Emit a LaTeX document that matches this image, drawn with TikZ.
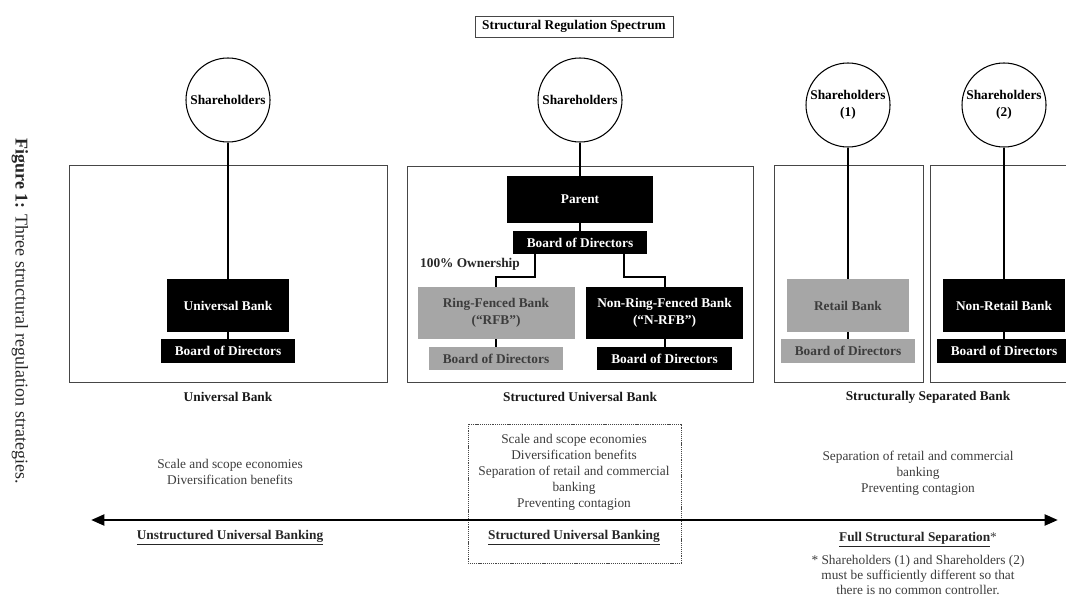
\documentclass[tikz,border=0pt]{standalone}
\usepackage{fontspec}
\setmainfont{Liberation Serif}
\usetikzlibrary{arrows.meta}
\definecolor{textgray}{RGB}{60,60,60}
\definecolor{boxgray}{RGB}{166,166,166}
\definecolor{edgegray}{RGB}{70,70,70}
\begin{document}
\begin{tikzpicture}[x=0.75pt,y=-0.75pt,
  every node/.style={font=\fontsize{10pt}{12pt}\selectfont, inner sep=0pt, align=center},
  share/.style={circle, draw=black, line width=0.8pt, minimum size=63pt, font=\fontsize{10pt}{12.5pt}\selectfont\bfseries},
  blackbox/.style={fill=black, text=white, font=\fontsize{10pt}{12.5pt}\selectfont\bfseries},
  graybox/.style={fill=boxgray, text=textgray, font=\fontsize{10pt}{12.5pt}\selectfont\bfseries},
  bank/.style={minimum width=91.5pt, minimum height=39.75pt},
  board/.style={minimum width=100.5pt, minimum height=18pt},
  panel/.style={draw=edgegray, line width=0.75pt},
  conn/.style={line width=1.5pt, black},
  plabel/.style={font=\fontsize{10pt}{12pt}\selectfont\bfseries, text=black!90},
  body/.style={text=textgray, font=\fontsize{10pt}{12pt}\selectfont},
  spectrum/.style={line width=2.2pt, black, {Triangle[length=10pt,width=8pt]}-{Triangle[length=10pt,width=8pt]}}
]
\clip (0,0) rectangle (1066,599);

% caption
\node[rotate=-90, font=\fontsize{13.5pt}{16pt}\selectfont, text=black!85] (cap) at (20,311) {\textbf{Figure 1:} Three structural regulation strategies.};

% title
\node[draw=edgegray, line width=0.6pt, minimum width=148.5pt, minimum height=15.75pt, font=\fontsize{10pt}{12pt}\selectfont\bfseries] (title) at (574,26.5) {Structural Regulation Spectrum};

% ---------- left panel ----------
\draw[panel] (69,165) rectangle (387,382);
\node[share] (sh1) at (228,100) {Shareholders};
\node[blackbox, bank] (ub) at (228,305.5) {Universal Bank};
\node[blackbox, board] (ubbod) at (228,351) {Board of Directors};
\draw[conn] (sh1) -- (ub);
\draw[conn] (ub) -- (ubbod);
\node[plabel] (lab1) at (228,397) {Universal Bank};

% ---------- middle panel ----------
\draw[panel] (407,166) rectangle (753,382);
\node[share] (sh2) at (580,100) {Shareholders};
\node[blackbox, minimum width=109.5pt, minimum height=35.25pt] (parent) at (580,199.5) {Parent};
\node[blackbox, minimum width=100.5pt, minimum height=17.25pt] (pbod) at (580,242.5) {Board of Directors};
\draw[conn] (sh2) -- (parent);
\draw[conn] (parent) -- (pbod);
\node[graybox, minimum width=117.75pt, minimum height=39pt] (rfb) at (496,313) {Ring-Fenced Bank\\(“RFB”)};
\node[blackbox, minimum width=117.75pt, minimum height=39pt] (nrfb) at (664.5,313) {Non-Ring-Fenced Bank\\(“N-RFB”)};
\node[graybox, minimum width=100.5pt, minimum height=17.25pt] (rfbbod) at (496,358.5) {Board of Directors};
\node[blackbox, minimum width=101.25pt, minimum height=17.25pt] (nrfbbod) at (664.5,358.5) {Board of Directors};
\draw[conn] ([xshift=-33.75pt]pbod.south) -- ++(0,23) -| (rfb.north);
\draw[conn] ([xshift=33pt]pbod.south) -- ++(0,23) -| (nrfb.north);
\draw[conn] (rfb) -- (rfbbod);
\draw[conn] (nrfb) -- (nrfbbod);
\node[font=\fontsize{10pt}{12pt}\selectfont\bfseries, text=black!85] (own) at (470,264) {100\% Ownership};
\node[plabel] (lab2) at (580,397) {Structured Universal Bank};

% ---------- right panels ----------
\draw[panel] (774,165) rectangle (923,382);
\draw[panel] (930,165) rectangle (1080,382);
\node[share] (sh3) at (848,105) {Shareholders\\(1)};
\node[share] (sh4) at (1004,105) {Shareholders\\(2)};
\node[graybox, bank] (rb) at (848,305.5) {Retail Bank};
\node[graybox, board] (rbbod) at (848,351) {Board of Directors};
\node[blackbox, bank] (nrb) at (1004,305.5) {Non-Retail Bank};
\node[blackbox, board] (nrbbod) at (1004,351) {Board of Directors};
\draw[conn] (sh3) -- (rb);
\draw[conn] (rb) -- (rbbod);
\draw[conn] (sh4) -- (nrb);
\draw[conn] (nrb) -- (nrbbod);
\node[plabel] (lab3) at (928,397) {Structurally Separated Bank};

% ---------- spectrum ----------
\draw[dash pattern=on 0.9pt off 0.7pt, draw=edgegray, line width=0.6pt] (468,424) rectangle (681,563);
\coordinate (aL) at (91,520);
\coordinate (aR) at (1058,520);
\draw[spectrum] (aL) -- (aR);

\node[body] (b1) at (230,472) {Scale and scope economies\\Diversification benefits};
\node[body] (b2) at (574,472) {Scale and scope economies\\Diversification benefits\\Separation of retail and commercial\\banking\\Preventing contagion};
\node[body] (b3) at (918,473) {Separation of retail and commercial\\banking\\Preventing contagion};

\node[font=\fontsize{10pt}{12pt}\selectfont\bfseries, text=black!85] (s1) at (230,538) {\underline{Unstructured Universal Banking}};
\node[font=\fontsize{10pt}{12pt}\selectfont\bfseries, text=black!85] (s2) at (574,538) {\underline{Structured Universal Banking}};
\node[font=\fontsize{10pt}{12pt}\selectfont\bfseries, text=black!85] (s3) at (918,540) {\underline{Full Structural Separation}{\mdseries\color{textgray}*}};
\node[body, font=\fontsize{10pt}{11.25pt}\selectfont] (fn) at (918,575) {* Shareholders (1) and Shareholders (2)\\must be sufficiently different so that\\there is no common controller.};
\end{tikzpicture}
\end{document}
